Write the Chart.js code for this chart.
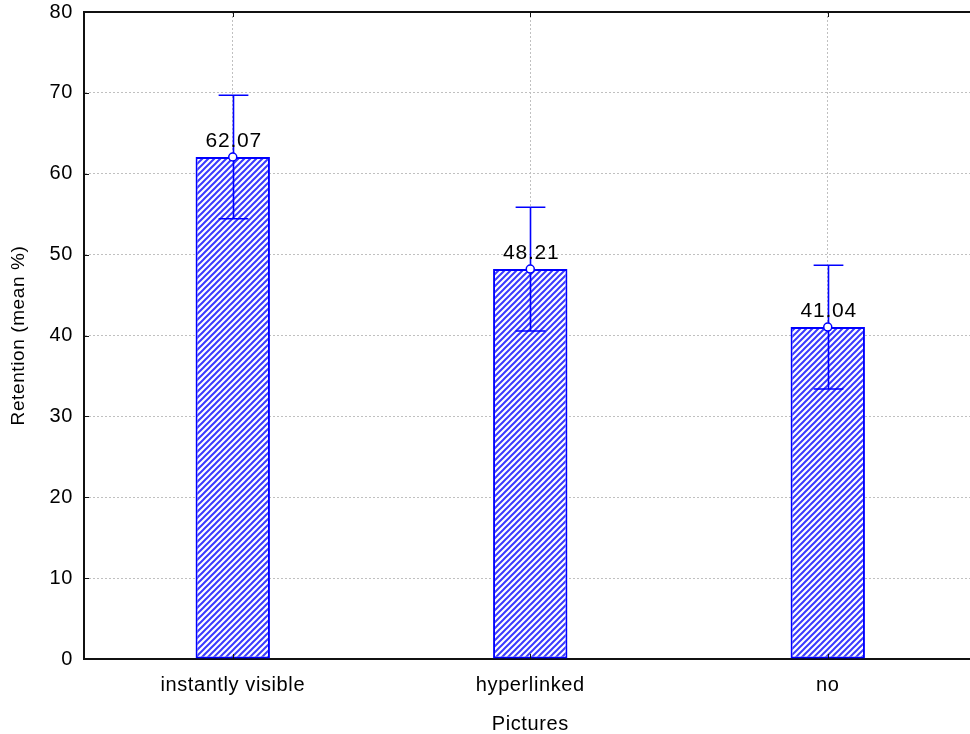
<!DOCTYPE html>
<html>
<head>
<meta charset="utf-8">
<script src="https://cdn.jsdelivr.net/npm/chart.js@4.4.0/dist/chart.umd.min.js"></script>
<style>
  html, body { margin: 0; padding: 0; background: #fff; overflow: hidden; width: 970px; height: 734px; }
  /* canvas a bit larger than the window: the plot frame runs off the right edge */
  #myChart { position: absolute; left: 0; top: -11px; }
</style>
</head>
<body>
<canvas id="myChart" width="982" height="745"></canvas>
<script>
// chart data
const categories = ["instantly visible", "hyperlinked", "no"];
const meanValues = [62.07, 48.21, 41.04];
const errLow = [54.44, 40.56, 33.39];
const errHigh = [69.70, 55.86, 48.69];
const yTicks = [0, 10, 20, 30, 40, 50, 60, 70, 80];

const BLUE = "#0000ff";
const FONT = "'Liberation Sans', Arial, sans-serif";

Chart.defaults.color = "#000";
Chart.defaults.font.family = FONT;

// diagonal hatch fill for the bars
function makeHatch() {
  const c = document.createElement("canvas");
  c.width = 6;
  c.height = 6;
  const g = c.getContext("2d");
  g.fillStyle = "#fff";
  g.fillRect(0, 0, 6, 6);
  g.strokeStyle = "#3a3aff";
  g.lineWidth = 2;
  g.beginPath();
  g.moveTo(-1, 7); g.lineTo(7, -1);
  g.moveTo(-1, 1); g.lineTo(1, -1);
  g.moveTo(5, 7); g.lineTo(7, 5);
  g.stroke();
  return g.createPattern(c, "repeat");
}

// letter spacing + top frame line and inward tick marks
const framePlugin = {
  id: "frame",
  beforeDraw(chart) {
    chart.ctx.letterSpacing = "0.6px";
  },
  afterDraw(chart) {
    const { ctx, chartArea, scales } = chart;
    const x = scales.x, y = scales.y;
    ctx.save();
    ctx.strokeStyle = "#111";
    ctx.lineWidth = 2;
    ctx.beginPath();
    const top = y.getPixelForValue(80);
    ctx.moveTo(chartArea.left - 1, top);
    ctx.lineTo(chartArea.right, top);
    ctx.stroke();
    ctx.lineWidth = 1;
    ctx.beginPath();
    yTicks.forEach(v => {
      const py = Math.round(y.getPixelForValue(v)) + 0.5;
      ctx.moveTo(chartArea.left, py);
      ctx.lineTo(chartArea.left + 5, py);
    });
    categories.forEach((c, i) => {
      const px = Math.round(x.getPixelForValue(i)) + 0.5;
      ctx.moveTo(px, chartArea.bottom);
      ctx.lineTo(px, chartArea.bottom - 5);
      ctx.moveTo(px, chartArea.top);
      ctx.lineTo(px, chartArea.top + 5);
    });
    ctx.stroke();
    ctx.restore();
  }
};

// error bars drawn right after the bars, under the points
const errorBarPlugin = {
  id: "errorBars",
  afterDatasetDraw(chart, args) {
    if (args.index !== 0) return;
    const { ctx } = chart;
    const y = chart.scales.y;
    const meta = chart.getDatasetMeta(0);
    ctx.save();
    ctx.strokeStyle = BLUE;
    ctx.lineWidth = 1.6;
    meta.data.forEach((bar, i) => {
      const px = Math.round(bar.x) + 0.5;
      const hw = bar.width * 0.2;
      const yLo = y.getPixelForValue(errLow[i]);
      const yHi = y.getPixelForValue(errHigh[i]);
      ctx.beginPath();
      ctx.moveTo(px, yLo); ctx.lineTo(px, yHi);
      ctx.moveTo(px - hw, yHi); ctx.lineTo(px + hw, yHi);
      ctx.moveTo(px - hw, yLo); ctx.lineTo(px + hw, yLo);
      ctx.stroke();
    });
    ctx.restore();
  }
};

// value labels above bars
const valueLabelPlugin = {
  id: "valueLabels",
  afterDatasetsDraw(chart) {
    const { ctx } = chart;
    const y = chart.scales.y;
    const meta = chart.getDatasetMeta(0);
    ctx.save();
    ctx.font = "21px " + FONT;
    ctx.letterSpacing = "0.8px";
    ctx.fillStyle = "#000";
    ctx.textAlign = "center";
    ctx.textBaseline = "alphabetic";
    meta.data.forEach((bar, i) => {
      ctx.fillText(meanValues[i].toFixed(2), bar.x + 1, y.getPixelForValue(meanValues[i]) - 10);
    });
    ctx.restore();
  }
};

const ctx = document.getElementById("myChart");

const chart = new Chart(ctx, {
  data: {
    labels: categories,
    datasets: [
      {
        type: "bar",
        data: meanValues,
        backgroundColor: makeHatch(),
        borderColor: BLUE,
        borderWidth: 2,
        borderSkipped: false,
        barPercentage: 0.25,
        categoryPercentage: 1,
        order: 2
      },
      {
        type: "line",
        data: meanValues,
        showLine: false,
        pointRadius: 4,
        pointBackgroundColor: "#fff",
        pointBorderColor: BLUE,
        pointBorderWidth: 1.5,
        order: 1
      }
    ]
  },
  options: {
    responsive: false,
    animation: false,
    devicePixelRatio: 1,
    layout: { padding: 0 },
    plugins: {
      legend: { display: false },
      tooltip: { enabled: false }
    },
    scales: {
      x: {
        type: "category",
        offset: true,
        afterFit: s => { s.height = 75; },
        grid: { offset: false, color: "#c0c0c0", drawTicks: false },
        border: { display: true, color: "#111", width: 2, dash: [2, 2] },
        ticks: { padding: 14, font: { size: 20 } },
        title: {
          display: true,
          text: "Pictures",
          font: { size: 20, lineHeight: 1 },
          padding: { top: 0, bottom: 0 }
        }
      },
      y: {
        min: 0,
        max: 80,
        afterFit: s => { s.width = 84; },
        afterBuildTicks: s => { s.ticks = yTicks.map(v => ({ value: v })); },
        grid: { color: "#c0c0c0", drawTicks: false },
        border: { display: true, color: "#111", width: 2, dash: [2, 2] },
        ticks: { padding: 11, font: { size: 20 } },
        title: {
          display: true,
          text: "Retention (mean %)",
          font: { size: 19, lineHeight: 1 },
          padding: { top: 9, bottom: 0 }
        }
      }
    }
  },
  plugins: [framePlugin, errorBarPlugin, valueLabelPlugin]
});
</script>
</body>
</html>
